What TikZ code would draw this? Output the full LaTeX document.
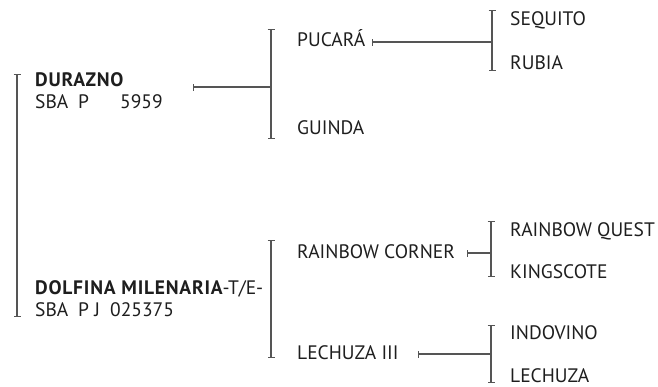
\documentclass[tikz,border=0pt]{standalone}
\usepackage{fontspec}
\setmainfont{PT Sans}
\newfontfamily\boldwide[LetterSpace=4]{PT Sans Bold}
\usetikzlibrary{arrows.meta}
\definecolor{linec}{HTML}{555555}
\definecolor{textc}{HTML}{1E1E1E}
\begin{document}
\begin{tikzpicture}[x=1pt,y=-1pt,
  lbl/.style={anchor=base west,inner sep=0pt,text=textc,font=\fontsize{19.5}{22}\selectfont},
  brk/.style={draw=linec,line width=1.3pt,{Bar[width=7pt,line width=1.3pt]}-{Bar[width=7pt,line width=1.3pt]}},
  conn/.style={draw=linec,line width=1.3pt,{Bar[width=7pt,line width=1.3pt]}-}]
\useasboundingbox (0,0) rectangle (658,386);
% generation 1
\node[lbl] (durazno) at (35,86) {{\boldwide DURAZNO}};
\node[lbl] (durazno2) at (35,108) {\makebox[43pt][l]{SBA}\makebox[42pt][l]{P}5959};
\node[lbl] (dolfina) at (35,294) {{\boldwide DOLFINA MILENARIA}-T/E-};
\node[lbl] (dolfina2) at (35,316) {\makebox[43pt][l]{SBA}\makebox[32pt][l]{P J}025375};
\coordinate (b1t) at (17,74);
\coordinate (b1b) at (17,317);
\draw[brk] (b1t) -- (b1b);
% generation 2
\node[lbl] (pucara) at (297,46) {PUCARÁ};
\node[lbl] (guinda) at (297,134) {GUINDA};
\node[lbl] (rainbowc) at (297,258) {RAINBOW CORNER};
\node[lbl] (lechuza3) at (297,359) {LECHUZA III};
\coordinate (b2t) at (271,29);
\coordinate (b2b) at (271,139);
\coordinate (b2m) at (271,87);
\coordinate (c2s) at (193,87);
\draw[brk] (b2t) -- (b2b);
\draw[conn] (c2s) -- (b2m);
\coordinate (b3t) at (271,240);
\coordinate (b3b) at (271,358);
\draw[brk] (b3t) -- (b3b);
% generation 3
\node[lbl] (sequito) at (510,25) {SEQUITO};
\node[lbl] (rubia) at (510,69) {RUBIA};
\coordinate (b4t) at (492,10);
\coordinate (b4b) at (492,71);
\coordinate (b4m) at (492,42);
\coordinate (c4s) at (372,42);
\draw[brk] (b4t) -- (b4b);
\draw[conn] (c4s) -- (b4m);
\node[lbl] (rquest) at (510,236) {RAINBOW QUEST};
\node[lbl] (kings) at (510,278) {KINGSCOTE};
\coordinate (b5t) at (491,221);
\coordinate (b5b) at (491,277);
\coordinate (b5m) at (491,253);
\coordinate (c5s) at (467,253);
\draw[brk] (b5t) -- (b5b);
\draw[conn] (c5s) -- (b5m);
\node[lbl] (indovino) at (510,339) {INDOVINO};
\node[lbl] (lechuza) at (510,382) {LECHUZA};
\coordinate (b6t) at (491,325);
\coordinate (b6b) at (491,383);
\coordinate (b6m) at (491,354);
\coordinate (c6s) at (418,354);
\draw[brk] (b6t) -- (b6b);
\draw[conn] (c6s) -- (b6m);
\end{tikzpicture}
\end{document}
